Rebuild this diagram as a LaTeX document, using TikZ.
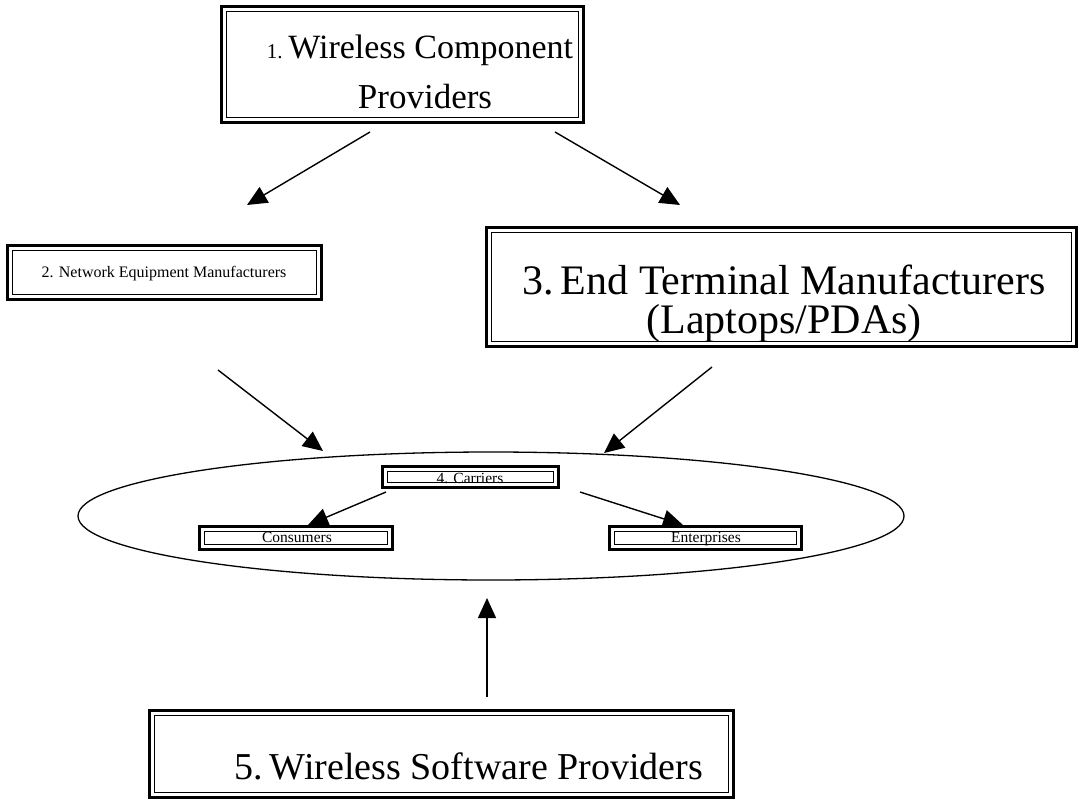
\documentclass[tikz,border=0pt]{standalone}
\usepackage{fontspec}
\setmainfont{Liberation Serif}
\usetikzlibrary{arrows.meta,shapes.geometric}

\tikzset{
  boxarea/.style={rectangle, inner sep=0pt},
  boxtxt/.style={inner sep=0pt, anchor=base},
  arr/.style={line width=1.4pt, -{Triangle[length=20pt,width=18pt]}},
}

\begin{document}
\begin{tikzpicture}[x=1pt,y=-1pt]
            \useasboundingbox (0,0) rectangle (1083,811);

            % frames
            \node[boxarea, minimum width=361pt, minimum height=115pt] (wcp) at (402.5,64.5) {};
            \node[boxarea, minimum width=313pt, minimum height=53pt] (nem) at (164.5,272.5) {};
            \node[boxarea, minimum width=589pt, minimum height=118pt] (etm) at (781.5,287) {};
            \node[boxarea, minimum width=175pt, minimum height=20pt] (car) at (470.5,477) {};
            \node[boxarea, minimum width=192pt, minimum height=22pt] (con) at (296,538) {};
            \node[boxarea, minimum width=191pt, minimum height=22pt] (ent) at (705.5,538) {};
            \node[boxarea, minimum width=583pt, minimum height=86pt] (wsp) at (441.5,754) {};
            \node[draw, ellipse, line width=1.3pt, minimum width=826pt, minimum height=128pt] (mkt) at (491,516) {};

            % texts
            \node[boxtxt, font=\fontsize{34}{40}\selectfont] (wcpa) at (420,58) {{\fontsize{21}{24}\selectfont 1.}\,Wireless Component};
            \node[boxtxt, font=\fontsize{35}{40}\selectfont] (wcpb) at (425,108) {Providers};
            \node[boxtxt, font=\fontsize{16}{19}\selectfont] (nemt) at (164,277) {2. Network Equipment Manufacturers};
            \node[boxtxt, font=\fontsize{42}{48}\selectfont] (etma) at (784,294) {3.\,End Terminal Manufacturers};
            \node[boxtxt, font=\fontsize{42}{48}\selectfont] (etmb) at (784,333) {(Laptops/PDAs)};
            \node[boxtxt, font=\fontsize{15.5}{18}\selectfont] (cart) at (470,483) {4. Carriers};
            \node[boxtxt, font=\fontsize{15.5}{18}\selectfont] (cont) at (297,542) {Consumers};
            \node[boxtxt, font=\fontsize{15.5}{18}\selectfont] (entt) at (706,542) {Enterprises};
            \node[boxtxt, font=\fontsize{38}{44}\selectfont] (wspt) at (469,779) {5.\,Wireless Software Providers};

            % double lined borders
            \foreach \b in {wcp,nem,etm,car,con,ent,wsp}{
              \draw[line width=2.8pt] (\b.north west) rectangle (\b.south east);
              \draw[white, line width=2pt] ([shift={(2.4pt,-2.4pt)}]\b.north west) rectangle ([shift={(-2.4pt,2.4pt)}]\b.south east);
              \draw[line width=1.3pt] ([shift={(4.6pt,-4.6pt)}]\b.north west) rectangle ([shift={(-4.6pt,4.6pt)}]\b.south east);
            }

            % arrow ends
            \coordinate (wcpL) at (370,132);
            \coordinate (wcpR) at (555,132);
            \coordinate (nemIn) at (247,205);
            \coordinate (etmIn) at (680,205);
            \coordinate (nemOut) at (218,370);
            \coordinate (etmOut) at (712,367);
            \coordinate (mktL) at (323,451);
            \coordinate (mktR) at (604,453);
            \coordinate (carL) at (386,492);
            \coordinate (carR) at (580,492);
            \coordinate (conIn) at (308,525);
            \coordinate (entIn) at (683,525);
            \coordinate (wspOut) at (487,697);
            \coordinate (mktB) at (487,598);

            \draw[arr] (wcpL) -- (nemIn);
            \draw[arr] (wcpR) -- (etmIn);
            \draw[arr] (nemOut) -- (mktL);
            \draw[arr] (etmOut) -- (mktR);
            \draw[arr] (carL) -- (conIn);
            \draw[arr] (carR) -- (entIn);
            \draw[arr] (wspOut) -- (mktB);
\end{tikzpicture}
\end{document}
